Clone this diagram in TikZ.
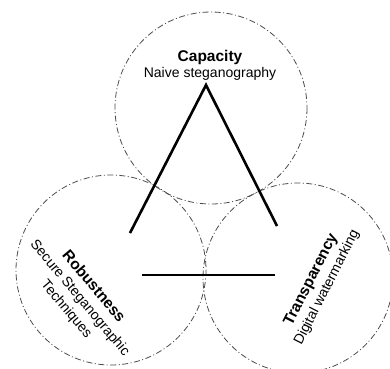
\documentclass[tikz,border=0pt]{standalone}
\usepackage{fontspec}
\setmainfont{Liberation Sans}
\begin{document}
\begin{tikzpicture}[x=1pt,y=-1pt,
  circ/.style={draw=black!70,line width=0.8pt,dash pattern=on 6pt off 2.5pt on 1pt off 2.5pt},
  leg/.style={draw=black,line width=2.6pt},
  lbl/.style={font=\fontsize{14}{17.5}\selectfont,inner sep=0pt,align=center}]
\newcommand{\ttlfont}{\fontsize{15.5}{17.5}\selectfont\bfseries}
\useasboundingbox (0,0) rectangle (390,368);
% circles
\coordinate (ct) at (211,108);
\coordinate (cl) at (111,270);
\coordinate (cr) at (298,278);
\draw[circ] (ct) circle[radius=96];
\draw[circ] (cl) circle[radius=95];
\draw[circ] (cr) circle[radius=95];
% triangle pieces
\coordinate (apex) at (206,85);
\coordinate (lend) at (130,233);
\coordinate (rend) at (277,226);
\coordinate (hl) at (142,275);
\coordinate (hr) at (275,275);
\draw[leg] (lend) -- (apex) -- (rend);
\draw[leg] (hl) -- (hr);
% texts
\node[lbl,font=\fontsize{14}{16}\selectfont] (cap) at (210,65) {{\ttlfont Capacity}\\Naive steganography};
\node[lbl,rotate=-50] (rob) at (80,298) {{\ttlfont Robustness}\\Secure Steganographic\\Techniques};
\node[lbl,rotate=63] (tra) at (319,283.5) {{\ttlfont Transparency}\\Digital watermarking};
\end{tikzpicture}
\end{document}
